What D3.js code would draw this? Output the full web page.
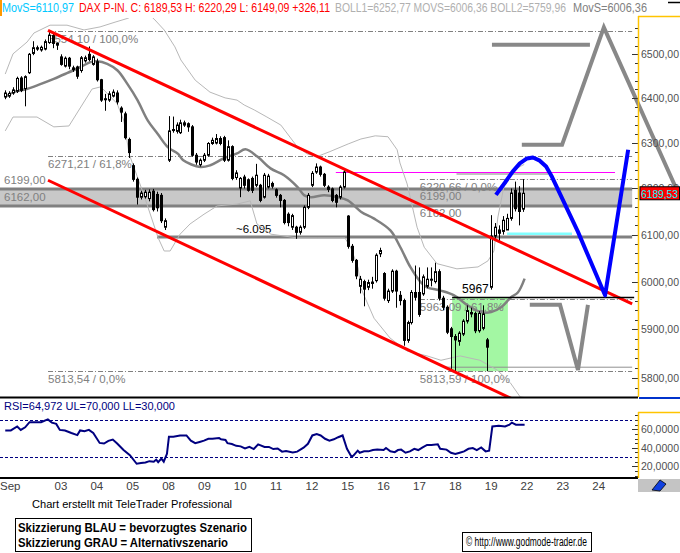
<!DOCTYPE html>
<html><head><meta charset="utf-8">
<script src="https://cdn.jsdelivr.net/npm/d3@7"></script>
<style>body{margin:0;background:#fff}svg{display:block;font-family:"Liberation Sans",Arial,sans-serif}</style>
</head><body><svg id="c" width="680" height="553"></svg>
<script>
// ---------- data ----------
const opens=[6403,6405,6412,6416,6446,6422,6458,6502,6515,6510,6512,6527,6543,6525,
6494,6473,6491,6469,6471,6463,6485,6500,6477,6483,6442,6399,6396,6405,
6412,6378,6365,6308,6250,6220,6181,6182,6178,6194,6187,6185,6116,
6262,6330,6326,6323,6340,6343,6336,6273,6252,
6262,6273,6299,6300,6310,6312,6262,6292,6224,
6201,6225,6219,6222,6207,6207,6181,6203,6211,
6197,6185,6174,6144,6116,6116,6105,6116,6159,
6207,6236,6247,6231,6203,6199,6185,6181,6203,
6140,6075,6045,5990,6000,5988,5996,6002,6059,
6017,5960,5980,6022,5971,5960,5877,5914,5977,
5977,5974,5990,6003,6000,6021,5965,5946,5901,
5885,5875,5890,5917,5935,5933,5897,5902,5878,
5988,6097,6110,6107,6110,6135,6196,6190,6155];
const highs=[6418,6416,6425,6449,6450,6452,6503,6530,6520,6520,6534,6554.1,6548,6527,
6500,6495,6494,6474,6474,6496,6497,6518,6498,6490,6444,6410,6416,6420,
6418,6382,6370,6312,6255,6224,6195,6197,6198,6199,6193,6190,6135,
6360,6359,6346,6352,6350,6346,6340,6278,6266,
6278,6302,6312,6320,6315,6316,6306,6295,6240,
6225,6230,6222,6226,6254,6210,6234,6232,6215,
6200,6188,6177,6148,6145,6119,6120,6163,6190,
6238,6255,6250,6234,6207,6202,6188,6207,6240,
6142,6080,6048,6012,6004,6004,6010,6060,6072,
6020,5985,6026,6025,5980,5964,5918,5982,6034,
6030,6015,6030,6030,6040,6026,5970,5950,5905,
5890,5896,5921,5950,5945,5937,5938,5950,5882,
6142,6125,6120,6140,6145,6200,6215,6205,6220.29];
const lows=[6398,6401,6408,6412,6414,6382,6455,6498,6508,6506,6509,6524,6514,6510,
6474,6470,6466,6460,6444,6458,6481,6484,6474,6438,6392,6372,6392,6402,
6386,6347,6308,6267,6215,6165,6176,6178,6172,6150,6150,6125,6110,
6258,6323,6321,6320,6336,6325,6270,6252,6248,
6258,6270,6296,6297,6295,6258,6259,6218,6219,
6181,6200,6193,6190,6203,6170,6178,6200,6200,
6180,6159,6122,6118,6110,6091,6100,6112,6155,
6203,6232,6226,6203,6192,6170,6159,6176,6200,
6070,6040,6005,5975,5948,5982,5985,5998,6052,
5960,5955,5976,5945,5950,5866,5872,5910,5960,
5926,5970,5986,5990,5996,5960,5940,5890,5818,
5814,5866,5886,5912,5925,5892,5893,5898,5813.59,
5983,6090,6085,6100,6110,6130,6150,6120,6149.09];
const closes=[6412,6411,6419,6445,6418,6449,6500,6515,6512,6516,6529,6544,6525,6521,
6477,6491,6473,6465,6450,6492,6492,6488,6494,6442,6396,6397,6410,6414,
6392,6369,6312,6279,6220,6181,6190,6192,6192,6154,6158,6130,6130,
6327,6328,6340,6345,6345,6336,6273,6258,6262,
6273,6299,6306,6310,6299,6262,6292,6222,6234,
6222,6207,6196,6196,6229,6174,6229,6227,6205,
6185,6174,6126,6126,6141,6105,6116,6159,6185,
6233,6247,6231,6207,6198,6174,6170,6203,6236,
6075,6045,6012,6005,5984,5998,5999,6056,6066,
5965,5980,6022,5980,5960,5877,5914,5977,5967,
5931,6010,6005,6005,6021,5965,5946,5894,5885,
5878,5892,5917,5939,5932,5897,5933,5932,5863,
6097,6116,6103,6131,6135,6190,6156,6150,6189.53];

// moving average (MovS)
const maIdx=[0,2.05,5.4,8.8,12.2,15.5,18.9,21.4,23.1,25.6,28.2,30.7,33.2,35.8,38.3,40.8,43.4,44.7,49,51.5,54.8,58.2,60.3,63.3,66.6,70,73.4,75.1,76.7,80.1,83.5,86,89.4,92.5,96.7,99.2,101.7,104.3,105.9,109.3,112.7,116.1,119.4,122,124.5,127,128.7,130.4];
const maVal=[6403,6414,6421,6432,6444,6457,6471,6482,6484,6478,6463,6432,6396,6350,6320,6291,6276,6262,6247,6251,6266,6277,6286,6270,6244,6229,6203,6185,6181,6185,6181,6174,6149,6135,6109,6073,6031,5999,5988,5981,5971,5950,5936,5936,5946,5967,5977,6006.36];
// Bollinger bands
const bbUpIdx=[0,1.95,5.46,7.22,11.24,15.51,19.78,23.8,27.56,30.8,33.8,36.35,37.6,39.9,42.6,44.1,47.7,51.4,55.2,58.2,60,62.5,65.7,69.2,73.3,75.8,78.3,81.5,86.1,89.3,92.9,96.1,98.4,99.1,100.9,103.4,105.2,108.4,113.4,118.7,121.2,122.7,123.7,125.2,127.7,130.3];
const bbUpVal=[6455,6501,6528,6549,6567,6567,6556,6563,6574,6583,6597,6590,6579,6556,6517,6487,6441,6414,6401,6396,6385,6374,6358,6340,6292,6276,6270,6281,6298,6309,6316,6314,6285,6256,6210,6116,6073,6038,6027,6031,6044,6065,6138,6204,6241,6252.77];
const bbLoIdx=[0,1.95,7.97,12.2,16,21.8,24,28.1,29.8,31.1,34.8,38.4,39.9,41.4,43.9,46.4,49.9,53.2,58.2,61.5,63.2,66.7,73.3,78.5,85.3,86.8,88.6,89.3,92.6,96.6,100.9,105.9,109.4,114.2,119.2,123.5,126.8,129.3,130.3];
const bbLoVal=[6327,6358,6358,6336,6338,6421,6426,6388,6349,6276,6186,6093,6065,6065,6101,6123,6144,6162,6166,6173,6123,6101,6093,6093,6093,6071,6029,5986,5923,5882,5855,5845,5836,5845,5836,5816,5790,5761,5759.96];
// RSI
const rsiIdx=[0,1.4,3,3.9,5,6.1,9,10.7,11.7,12.8,13.7,15,16.6,18.1,18.8,19.9,21,22.1,
23.7,24.8,25.9,27,28.1,29.7,31.3,33,34.1,35.2,36.2,37.3,37.9,38.4,39.2,39.8,40.6,
41.1,42.2,43.9,45.5,46.6,47.7,48.8,49.9,51,52,53.7,54.2,55.3,55.8,56.9,58,
59.1,60.2,61.3,62.4,63.5,65.1,66.2,67.3,68.4,69.5,70.5,72.2,73.3,74.9,76,
77.1,78.2,79.2,80.3,81.4,82.5,83.6,84.7,
85.8,86.9,87.4,88.5,89,90.1,91.2,92.3,93.4,95,95.6,96.7,97.8,98.6,99.4,100.5,101.6,102.7,103.7,104.8,105.9,107,108.6,109.2,110.8,111.9,113,114.1,115.2,116.3,117.4,118.4,119.5,120.6,121.5,
122.3,123.9,125.5,126.6,127.2,128.2,130.4];
const rsiVal=[58.7,58.7,63,59.3,62.1,67.7,67.7,70.6,67.2,65.8,59.3,58.7,55.9,53.7,58.7,57.9,59.3,55.9,
45.2,44.6,47.5,48.9,44.6,37.6,32,22.7,23.5,24.1,25.5,24.9,27.2,24.4,28.3,24.9,33.4,
51.9,51.9,53.3,53.3,47.7,44.9,46.3,47.7,49.7,49.7,50.5,49.1,48.5,44.9,44,42.1,
41.5,39.2,40.9,38.6,43.7,40.9,40.9,38.6,39.2,35.8,36.4,35,35.8,40.1,44.3,
53.3,54.7,53.3,49.7,47.7,49.1,51.4,53.3,
38.9,30.5,31.5,36.9,34.6,36.1,36.1,37.5,38,37.5,39.7,36.1,35.2,37.5,38,34.6,36.1,38.9,37.5,40.3,43.1,43.1,43.7,38.9,38,34.6,33.2,34.6,36.1,38.9,39.7,37.5,40.3,36.1,36.9,
63,63.8,63,64.9,67.2,64.9,64.97];

// axis labels
const dayLabels=["Sep","03","04","05","08","09","10","11","12","15","16","17","18","19","22","23","24"];
const dayIdx=[0.7,14,23,32,41,50,59,68,77,86,95,104,113,122,131,140,149];
const priceTicks=[5800,5900,6000,6100,6200,6300,6400,6500];
const rsiTicks=[20,40,60];

// drawing annotations (index / price)
const bandLevels=[6199,6162];
const fibLeft=[{v:6554.10,t:"6554,10 / 100,0%"},{v:6271.21,t:"6271,21 / 61,8%"},{v:5813.54,t:"5813,54 / 0,0%"}];
const fibRight=[{v:6220.66,t:"6220,66 / 0,0%"},{v:5963.09,t:"5963,09 / 61,8%"},{v:5813.59,t:"5813,59 / 100,0%"}];
const chanUpIdx=[10.74,157.4], chanUpVal=[6555,5953];
const chanLoIdx=[10.74,140], chanLoVal=[6218,5709];
const blueIdx=[123.2,125.4,127.4,129.2,131,132.5,134.2,135.8,137.3,143.8,150.6,156.4];
const blueVal=[6186,6212,6237,6255,6266,6268,6261,6248,6225,6106,5971,6285];
const grayAIdx=[129.7,139.8,150.3,168.4], grayAVal=[6296,6296,6562,6201];
const grayBIdx=[122.2,146.8], grayBVal=[6522,6522];
const grayCIdx=[131.7,139.3,143.8,146.3], grayCVal=[5951,5951,5816,5951];
const greenIdx=[112.2,126.2], greenVal=[5813.59,5967];

// ---------- scales ----------
const svg=d3.select("#c");
const x=d3.scaleLinear().domain([14,131]).range([61,527]);
const y=d3.scaleLog().domain([5761,6579]).range([397,20]);
const yr=d3.scaleLinear().domain([30,70]).range([457,420]);
const AX=638;
const xEnd=x(157.4);

svg.append("defs").append("clipPath").attr("id","mc").append("rect").attr("x",0).attr("y",18).attr("width",AX).attr("height",379);
svg.append("defs").append("clipPath").attr("id","rc").append("rect").attr("x",0).attr("y",399).attr("width",AX).attr("height",78);

const g=svg.append("g").attr("clip-path","url(#mc)");
const F="Liberation Sans, Arial, sans-serif";

// green box
g.append("rect").attr("x",x(greenIdx[0])).attr("width",x(greenIdx[1])-x(greenIdx[0]))
 .attr("y",y(greenVal[1])).attr("height",y(greenVal[0])-y(greenVal[1])).attr("fill","#a3f7a3");
// band
g.append("rect").attr("x",0).attr("width",xEnd).attr("y",y(bandLevels[0])).attr("height",y(bandLevels[1])-y(bandLevels[0])).attr("fill","#c8c8c8");
bandLevels.forEach(v=>g.append("line").attr("x1",0).attr("x2",xEnd).attr("y1",y(v)).attr("y2",y(v)).attr("stroke","#808080").attr("stroke-width",3));
// 6095 line
g.append("line").attr("x1",x(38.1)).attr("x2",xEnd).attr("y1",y(6095)).attr("y2",y(6095)).attr("stroke","#808080").attr("stroke-width",3);
// fib lines
fibLeft.forEach(f=>g.append("line").attr("x1",x(10.74)).attr("x2",xEnd).attr("y1",Math.round(y(f.v))+0.5).attr("y2",Math.round(y(f.v))+0.5).attr("stroke","#808080").attr("stroke-dasharray","5,2,1,2"));
fibRight.slice(0,2).forEach(f=>g.append("line").attr("x1",x(104.1)).attr("x2",xEnd).attr("y1",Math.round(y(f.v))+0.5).attr("y2",Math.round(y(f.v))+0.5).attr("stroke","#808080").attr("stroke-dasharray","5,2,1,2"));
g.append("line").attr("x1",x(110.5)).attr("x2",xEnd).attr("y1",y(5813.59)-4).attr("y2",y(5813.59)-4).attr("stroke","#909090").attr("stroke-width",1);
// magenta / light gray / cyan levels
g.append("line").attr("x1",x(113.3)).attr("x2",x(136.3)).attr("y1",y(6233)).attr("y2",y(6233)).attr("stroke","#c0c0c0").attr("stroke-width",3);
g.append("line").attr("x1",x(83)).attr("x2",x(153.1)).attr("y1",Math.round(y(6237))+0.5).attr("y2",Math.round(y(6237))+0.5).attr("stroke","#ff00ff").attr("stroke-width",1);
g.append("line").attr("x1",x(126)).attr("x2",x(142.3)).attr("y1",y(6102)).attr("y2",y(6102)).attr("stroke","#80ffff").attr("stroke-width",2.5);

// texts
const T=(px,py,t,col,sz)=>g.append("text").attr("x",px).attr("y",py).text(t).attr("fill",col||"#808080").attr("font-size",sz||11.5).attr("font-family",F);
T(4,y(6199)-5,"6199,00"); T(4,y(6162)-5,"6162,00");
fibLeft.forEach(f=>T(x(10.74),y(f.v)+12,f.t));
fibRight.forEach(f=>T(x(104.1),y(f.v)+12,f.t));
T(x(104.1),y(6199)+11,"6199,00"); T(x(104.1),y(6162)+11,"6162,00");
T(236,y(6095)-4,"~6.095","#000");

// Bollinger
const lineGen=d3.line().x(d=>x(d[0])).y(d=>y(d[1]));
g.append("path").attr("d",lineGen(d3.zip(bbUpIdx,bbUpVal))).attr("fill","none").attr("stroke","#b8b8b8").attr("stroke-width",1);
g.append("path").attr("d",lineGen(d3.zip(bbLoIdx,bbLoVal))).attr("fill","none").attr("stroke","#b8b8b8").attr("stroke-width",1);
// MA
g.append("path").attr("d",d3.line().x(d=>x(d[0])).y(d=>y(d[1])).curve(d3.curveCatmullRom)(d3.zip(maIdx,maVal))).attr("fill","none").attr("stroke","#808080").attr("stroke-width",2.5);

// candles
const cg=g.append("g");
opens.forEach((o,i)=>{
  const cx=Math.round(x(i));
  const h=highs[i],l=lows[i],c=closes[i];
  cg.append("line").attr("x1",cx+0.5).attr("x2",cx+0.5).attr("y1",y(h)).attr("y2",y(l)).attr("stroke","#000").attr("stroke-width",1);
  const top=y(Math.max(o,c)),bot=y(Math.min(o,c));
  const up=c>=o;
  cg.append("rect").attr("x",cx-0.5).attr("width",2).attr("y",top).attr("height",Math.max(1,bot-top))
    .attr("fill",up?"#fff":"#000").attr("stroke","#000").attr("stroke-width",1);
});

// channel
g.append("path").attr("d",lineGen(d3.zip(chanUpIdx,chanUpVal))).attr("stroke","#ff0000").attr("stroke-width",3).attr("fill","none");
g.append("path").attr("d",lineGen(d3.zip(chanLoIdx,chanLoVal))).attr("stroke","#ff0000").attr("stroke-width",3).attr("fill","none");
// 5967 line
g.append("line").attr("x1",x(112.2)).attr("x2",x(157.9)).attr("y1",Math.round(y(5967))+0.5).attr("y2",Math.round(y(5967))+0.5).attr("stroke","#000").attr("stroke-width",1.5);
T(x(114.7),y(5967)-4,"5967","#000",12);
// scenarios
g.append("path").attr("d",lineGen(d3.zip(grayBIdx,grayBVal))).attr("stroke","#888").attr("stroke-width",4).attr("fill","none");
g.append("path").attr("d",lineGen(d3.zip(grayCIdx,grayCVal))).attr("stroke","#888").attr("stroke-width",4).attr("fill","none");
g.append("path").attr("d",lineGen(d3.zip(blueIdx,blueVal))).attr("stroke","#0000ff").attr("stroke-width",4).attr("fill","none").attr("stroke-linejoin","round");
svg.append("path").attr("d",lineGen(d3.zip(grayAIdx,grayAVal))).attr("stroke","#888").attr("stroke-width",4).attr("fill","none");

// ---------- right price axis ----------
for(let v=5780; v<=6570; v+=20){
  const yy=Math.round(y(v))+0.5, major=v%100===0;
  svg.append("line").attr("x1",AX-(major?6:3)).attr("x2",AX).attr("y1",yy).attr("y2",yy).attr("stroke","#333");
}
priceTicks.forEach(v=>svg.append("text").attr("x",641).attr("y",y(v)+4).text(v+",00").attr("fill","#505050").attr("font-size",11).attr("font-family",F).attr("textLength",38).attr("lengthAdjust","spacingAndGlyphs"));
svg.append("line").attr("x1",AX+0.5).attr("x2",AX+0.5).attr("y1",16).attr("y2",397).attr("stroke","#ffc400").attr("stroke-width",1.5);
svg.append("line").attr("x1",AX).attr("x2",680).attr("y1",16.5).attr("y2",16.5).attr("stroke","#ffc400").attr("stroke-width",1.5);
const lastC=closes[closes.length-1];
svg.append("rect").attr("x",640).attr("y",y(lastC)-6.5).attr("width",39.5).attr("height",13).attr("fill","#ff0000").attr("stroke","#000");
svg.append("text").attr("x",641).attr("y",y(lastC)+4.5).text("6189,53").attr("fill","#00ffff").attr("font-size",11).attr("font-family",F).attr("textLength",37).attr("lengthAdjust","spacingAndGlyphs");
svg.append("line").attr("x1",AX+1).attr("x2",680).attr("y1",398).attr("y2",398).attr("stroke","#0033cc").attr("stroke-width",2);

// panel separators
svg.append("line").attr("x1",0).attr("x2",AX).attr("y1",397.5).attr("y2",397.5).attr("stroke","#000").attr("stroke-width",2);
svg.append("line").attr("x1",0).attr("x2",AX).attr("y1",478).attr("y2",478).attr("stroke","#000").attr("stroke-width",2);

// ---------- RSI ----------
const rg=svg.append("g").attr("clip-path","url(#rc)");
[70,30].forEach(v=>rg.append("line").attr("x1",0).attr("x2",AX-6).attr("y1",Math.round(yr(v))+0.5).attr("y2",Math.round(yr(v))+0.5).attr("stroke","#000080").attr("stroke-dasharray","3,2"));
rg.append("path").attr("d",d3.line().x(d=>x(d[0])).y(d=>yr(d[1]))(d3.zip(rsiIdx,rsiVal))).attr("fill","none").attr("stroke","#000080").attr("stroke-width",2);
svg.append("text").attr("x",4).attr("y",410).text("RSI=64,972 UL=70,000 LL=30,000").attr("fill","#000080").attr("font-size",11).attr("font-family",F);
for(let v=10; v<=90; v+=5){
  const yy=Math.round(yr(v))+0.5; if(yy<415||yy>477) continue;
  svg.append("line").attr("x1",AX-(v%20===0?6:3)).attr("x2",AX).attr("y1",yy).attr("y2",yy).attr("stroke","#333");
}
rsiTicks.forEach(v=>svg.append("text").attr("x",641).attr("y",yr(v)+4).text(v+",0000").attr("fill","#505050").attr("font-size",11).attr("font-family",F).attr("textLength",38).attr("lengthAdjust","spacingAndGlyphs"));
svg.append("line").attr("x1",AX+0.5).attr("x2",AX+0.5).attr("y1",412).attr("y2",478).attr("stroke","#ffc400").attr("stroke-width",1.5);
svg.append("line").attr("x1",AX).attr("x2",680).attr("y1",412.5).attr("y2",412.5).attr("stroke","#ffc400").attr("stroke-width",1.5);

// ---------- x axis ----------
dayIdx.forEach((d,i)=>svg.append("text").attr("x",i===0?x(d)-8:x(d)).attr("y",490).attr("text-anchor",i===0?"start":"middle").text(dayLabels[i]).attr("fill","#404040").attr("font-size",11.5).attr("font-family",F));
svg.append("rect").attr("x",AX).attr("y",479).attr("width",42).attr("height",13).attr("fill","#c4c4c4");
svg.append("path").attr("d","M652,490 L660,480 L666,484 L660,491 Z").attr("fill","#1040e0").attr("stroke","#000").attr("stroke-width",0.8);

// ---------- header ----------
const hdr=[{t:"MovS=6110,97",x:2,w:72,c:"#00c8ff"},{t:"DAX P-IN. C: 6189,53 H: 6220,29 L: 6149,09 +326,11",x:79,w:251,c:"#ff0000"},
 {t:"BOLL1=6252,77 MOVS=6006,36 BOLL2=5759,96",x:335,w:231,c:"#b0b0b0"},{t:"MovS=6006,36",x:573,w:74,c:"#808080"}];
hdr.forEach(h=>svg.append("text").attr("x",h.x).attr("y",12).text(h.t).attr("fill",h.c).attr("font-size",12).attr("font-family",F).attr("textLength",h.w).attr("lengthAdjust","spacingAndGlyphs"));
svg.append("rect").attr("x",0).attr("y",0).attr("width",2).attr("height",16).attr("fill","#ff9900");
svg.append("line").attr("x1",668).attr("x2",680).attr("y1",2.5).attr("y2",2.5).attr("stroke","#000").attr("stroke-width",1.5);

// ---------- footer ----------
svg.append("text").attr("x",32).attr("y",508).text("Chart erstellt mit TeleTrader Professional").attr("font-size",11).attr("font-family",F).attr("textLength",200).attr("lengthAdjust","spacingAndGlyphs");
svg.append("rect").attr("x",15.5).attr("y",518.5).attr("width",236).attr("height",33).attr("fill","none").attr("stroke","#000");
svg.append("text").attr("x",18).attr("y",532).text("Skizzierung BLAU = bevorzugtes Szenario").attr("font-size",12).attr("font-weight","bold").attr("font-family",F).attr("textLength",229).attr("lengthAdjust","spacingAndGlyphs");
svg.append("text").attr("x",18).attr("y",547).text("Skizzierung GRAU = Alternativszenario").attr("font-size",12).attr("font-weight","bold").attr("font-family",F).attr("textLength",210).attr("lengthAdjust","spacingAndGlyphs");
svg.append("rect").attr("x",462.5).attr("y",532.5).attr("width",129).attr("height",19).attr("fill","none").attr("stroke","#000");
svg.append("text").attr("x",466).attr("y",546).text("© http://www.godmode-trader.de").attr("font-size",12).attr("font-family",F).attr("textLength",121).attr("lengthAdjust","spacingAndGlyphs");
</script></body></html>
